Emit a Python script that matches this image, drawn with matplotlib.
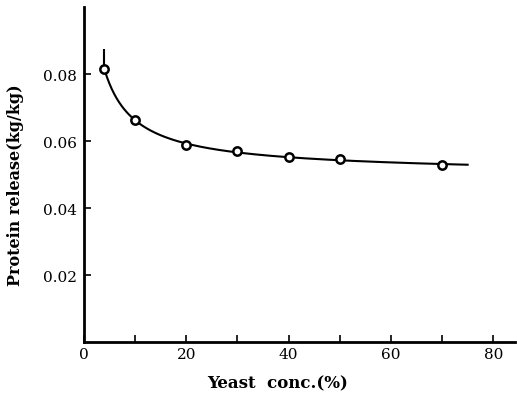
import numpy as np
import matplotlib
matplotlib.use("Agg")
import matplotlib.pyplot as plt

# Data
yeast_conc = [4, 10, 20, 30, 40, 50, 70]
protein_release = [0.0814, 0.0663, 0.0587, 0.0570, 0.0552, 0.0546, 0.0529]
err_first = 0.006
x_ticks = [0, 20, 40, 60, 80]
x_minor = [10, 30, 50, 70]
y_ticks = [0.02, 0.04, 0.06, 0.08]
y_tick_labels = ["0.02", "0.04", "0.06", "0.08"]

# smooth trend curve fitted to the points (y = a + b/(x+k) + c*x)
k = 2.0
xd = np.array(yeast_conc, float)
yd = np.array(protein_release, float)
A = np.column_stack([np.ones_like(xd), 1.0 / (xd + k), xd])
coef, *_ = np.linalg.lstsq(A, yd, rcond=None)
xc = np.linspace(4, 75, 300)
yc = coef[0] + coef[1] / (xc + k) + coef[2] * xc

plt.rcParams['font.family'] = ['DejaVu Serif']
fig = plt.figure(figsize=(5.17, 4.06), dpi=100)
ax = fig.add_axes([0.1625, 0.155, 0.834, 0.825])

ax.plot(xc, yc, color='black', lw=1.5, zorder=2)
ax.errorbar([yeast_conc[0]], [protein_release[0]], yerr=[[0], [err_first]],
            fmt='none', ecolor='black', elinewidth=1.5, capsize=0, zorder=2)
ax.plot(yeast_conc, protein_release, 'o', ms=6, mfc='white', mec='black', mew=1.8, zorder=3)

ax.set_xlim(0, 84.3)
ax.set_ylim(0, 0.1)
for s in ['top', 'right']:
    ax.spines[s].set_visible(False)
for s in ['left', 'bottom']:
    ax.spines[s].set_linewidth(2)

ax.set_xticks(x_ticks)
ax.set_xticks(x_minor, minor=True)
ax.set_yticks(y_ticks)
ax.set_yticklabels(y_tick_labels)
ax.tick_params(axis='both', which='both', direction='in', width=1.2, labelsize=11)
ax.tick_params(axis='both', which='major', length=5)
ax.tick_params(axis='x', which='minor', length=5)
ax.tick_params(axis='y', pad=5)

ax.set_xlabel("Yeast  conc.(%)", fontsize=12, fontweight='bold')
ax.xaxis.set_label_coords(0.45, -0.095)
ax.set_ylabel("Protein release(kg/kg)", fontsize=11.5, fontweight='bold')
ax.yaxis.set_label_coords(-0.14, 0.47)

fig.savefig("out.png", dpi=100)
